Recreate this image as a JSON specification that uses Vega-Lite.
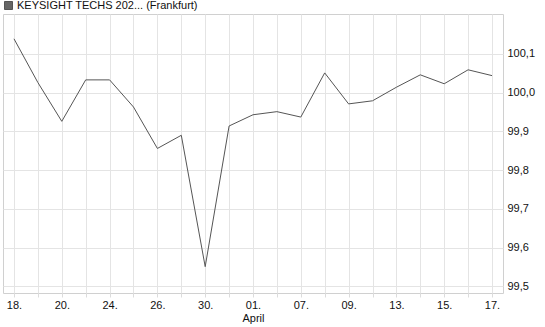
{
  "$schema": "https://vega.github.io/schema/vega-lite/v6.json",
  "width": 500,
  "height": 279,
  "autosize": {"type": "none"},
  "padding": {"left": 3, "top": 14, "right": 42, "bottom": 34},
  "config": {
    "font": "Liberation Sans",
    "view": {"stroke": "#d0d0d0", "strokeWidth": 1},
    "axis": {"labelFont": "Liberation Sans", "labelFontSize": 11, "labelColor": "#111", "gridColor": "#e4e4e4", "gridWidth": 1, "domain": false, "title": null}
  },
  "data": {
    "values": [
      {"tag": "18.", "v": 100.139},
      {"tag": "19.", "v": 100.026},
      {"tag": "20.", "v": 99.926},
      {"tag": "21.", "v": 100.033},
      {"tag": "24.", "v": 100.033},
      {"tag": "25.", "v": 99.963},
      {"tag": "26.", "v": 99.856},
      {"tag": "27.", "v": 99.890},
      {"tag": "30.", "v": 99.551},
      {"tag": "31.", "v": 99.914},
      {"tag": "01.", "v": 99.943},
      {"tag": "04.", "v": 99.951},
      {"tag": "07.", "v": 99.937},
      {"tag": "08.", "v": 100.051},
      {"tag": "09.", "v": 99.971},
      {"tag": "10.", "v": 99.979},
      {"tag": "13.", "v": 100.014},
      {"tag": "14.", "v": 100.046},
      {"tag": "15.", "v": 100.023},
      {"tag": "16.", "v": 100.059},
      {"tag": "17.", "v": 100.044}
    ]
  },
  "mark": {"type": "line", "strokeWidth": 1, "interpolate": "linear"},
  "encoding": {
    "x": {
      "field": "tag",
      "type": "ordinal",
      "sort": null,
      "scale": {"type": "point", "padding": 0.46},
      "axis": {
        "orient": "bottom",
        "labelAngle": 0,
        "grid": true,
        "ticks": true,
        "tickSize": 4,
        "tickColor": "#dcdcdc",
        "labelPadding": 2,
        "labelLineHeight": 13,
        "labelExpr": "indexof(['18.','20.','24.','26.','30.','01.','07.','09.','13.','15.','17.'], datum.value) >= 0 ? (datum.value == '01.' ? ['01.', 'April'] : datum.value) : ''"
      }
    },
    "y": {
      "field": "v",
      "type": "quantitative",
      "scale": {"domain": [99.483, 100.203], "nice": false, "zero": false},
      "axis": {
        "orient": "right",
        "values": [99.5, 99.6, 99.7, 99.8, 99.9, 100.0, 100.1],
        "labelExpr": "replace(format(datum.value, '.1f'), '.', ',')",
        "grid": true,
        "ticks": false,
        "labelPadding": 4
      }
    },
    "color": {
      "datum": "KEYSIGHT TECHS 202... (Frankfurt)",
      "scale": {"range": ["#555555"]},
      "legend": {
        "title": null,
        "orient": "none",
        "legendX": 0,
        "legendY": -14,
        "symbolType": "square",
        "symbolSize": 64,
        "labelFontSize": 11,
        "labelFont": "Liberation Sans",
        "labelColor": "#111",
        "labelOffset": 3,
        "labelLimit": 400,
        "padding": 0,
        "encode": {"symbols": {"update": {"fill": {"value": "#666666"}, "stroke": {"value": "#222222"}, "strokeWidth": {"value": 1}}}}
      }
    }
  }
}
